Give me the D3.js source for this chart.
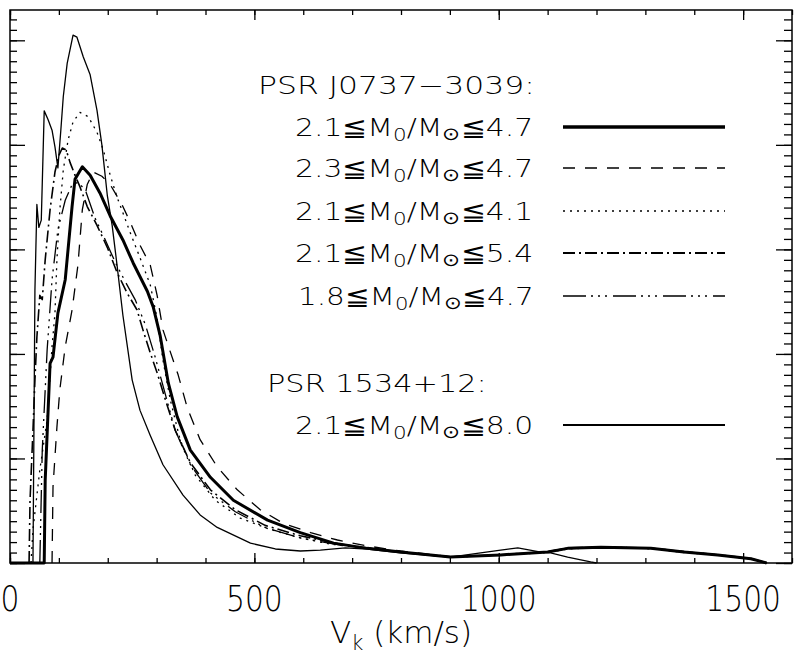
<!DOCTYPE html>
<html><head><meta charset="utf-8">
<script src="https://cdn.jsdelivr.net/npm/d3@7"></script>
<style>
body{margin:0;background:#fff}
svg{display:block}
text{font-family:"DejaVu Sans",sans-serif;fill:#000;font-weight:200}
</style>
</head><body>
<svg id="chart" width="800" height="658"></svg>
<script>
// ---------- data (Vk in km/s, relative probability density) ----------
const xTickLabels = [0, 500, 1000, 1500];

// PSR J0737-3039, 2.1<=M0/Msun<=4.7 (thick solid)
const j0737_21_47 = [[0,0],[70,0],[72,0.79],[82,1.91],[88,1.97],[98,2.39],[113,2.71],[127,3.41],[133,3.67],[148,3.79],[164,3.71],[184,3.54],[205,3.32],[231,3.09],[252,2.87],[281,2.60],[293,2.45],[307,2.18],[324,1.72],[342,1.40],[369,1.08],[410,0.82],[457,0.60],[527,0.41],[594,0.29],[662,0.19],[731,0.14],[799,0.105],[901,0.057],[1004,0.077],[1100,0.105],[1141,0.14],[1209,0.15],[1311,0.14],[1379,0.105],[1448,0.077],[1516,0.04],[1548,0]];
// PSR J0737-3039, 2.3<=M0/Msun<=4.7 (dashed)
const j0737_23_47 = [[86,0],[88,0.73],[96,1.30],[102,1.66],[113,2.07],[127,2.42],[139,2.85],[148,3.38],[158,3.62],[170,3.74],[188,3.70],[205,3.62],[229,3.43],[246,3.26],[266,3.04],[287,2.85],[301,2.56],[313,2.23],[328,2.02],[344,1.80],[363,1.48],[389,1.18],[424,0.92],[465,0.70],[512,0.51],[559,0.38],[615,0.29],[670,0.22],[731,0.163],[799,0.115],[901,0.06],[1004,0.08],[1100,0.11],[1141,0.145],[1209,0.155],[1311,0.145],[1379,0.11],[1448,0.08],[1516,0.045],[1550,0]];
// PSR J0737-3039, 2.1<=M0/Msun<=4.1 (dotted)
const j0737_21_41 = [[43,0],[47,0.32],[61,0.89],[76,1.37],[86,2.07],[92,2.39],[96,2.90],[102,3.38],[109,3.76],[119,4.05],[129,4.22],[143,4.31],[160,4.27],[178,4.12],[191,3.95],[205,3.71],[219,3.50],[231,3.35],[246,3.16],[266,2.92],[287,2.66],[301,2.34],[313,1.94],[328,1.56],[348,1.18],[379,0.84],[420,0.60],[471,0.43],[533,0.32],[594,0.24],[656,0.18],[731,0.144],[799,0.105],[901,0.055],[1004,0.075],[1100,0.10],[1141,0.135],[1209,0.148],[1311,0.138],[1379,0.10],[1448,0.075],[1516,0.04],[1546,0]];
// PSR J0737-3039, 2.1<=M0/Msun<=5.4 (dash-dot)
const j0737_21_54 = [[39,0],[41,0.60],[47,1.27],[51,1.75],[55,2.16],[61,2.56],[66,2.52],[72,2.90],[82,3.38],[92,3.74],[100,3.90],[107,3.97],[115,3.95],[123,3.83],[133,3.71],[143,3.60],[158,3.41],[178,3.23],[199,3.02],[219,2.78],[240,2.58],[260,2.42],[272,2.23],[287,2.01],[301,1.82],[318,1.56],[338,1.27],[369,0.96],[410,0.70],[461,0.51],[522,0.36],[594,0.26],[676,0.18],[731,0.144],[799,0.105],[901,0.058],[1004,0.078],[1100,0.107],[1141,0.142],[1209,0.152],[1311,0.142],[1379,0.107],[1448,0.078],[1516,0.042],[1549,0]];
// PSR J0737-3039, 1.8<=M0/Msun<=4.7 (dash-dot-dot)
const j0737_18_47 = [[61,0],[66,1.08],[76,2.04],[86,2.71],[98,3.19],[113,3.47],[127,3.62],[139,3.64],[154,3.57],[174,3.30],[195,3.09],[215,2.88],[236,2.69],[256,2.52],[277,2.28],[297,1.97],[318,1.61],[338,1.27],[369,0.94],[410,0.67],[461,0.49],[522,0.34],[594,0.24],[676,0.17],[731,0.144],[799,0.105],[901,0.056],[1004,0.076],[1100,0.104],[1141,0.138],[1209,0.148],[1311,0.138],[1379,0.104],[1448,0.076],[1516,0.04],[1547,0]];
// PSR 1534+12, 2.1<=M0/Msun<=8.0 (thin solid)
const b1534_21_80 = [[0,0],[47,0],[51,2.61],[55,3.43],[59,3.21],[64,3.28],[70,4.325],[78,4.24],[86,4.14],[92,3.98],[98,3.78],[104,4.14],[109,4.46],[117,4.78],[129,5.05],[137,5.03],[150,4.84],[164,4.67],[178,4.33],[188,4.00],[199,3.52],[209,3.23],[219,2.85],[231,2.37],[250,1.75],[266,1.46],[287,1.22],[313,0.94],[354,0.65],[389,0.46],[424,0.34],[492,0.19],[543,0.134],[594,0.115],[635,0.124],[686,0.144],[731,0.134],[799,0.096],[901,0.057],[963,0.096],[1004,0.124],[1039,0.144],[1086,0.105],[1106,0.096],[1141,0.057],[1168,0.03],[1188,0.01],[1200,0]];

const seriesList = [
  {data: j0737_21_47, width: 3,   dash: null,                 lo: "2.1", hi: "4.7", legendWidth: 3.5},
  {data: j0737_23_47, width: 1.3, dash: "12,10",              lo: "2.3", hi: "4.7"},
  {data: j0737_21_41, width: 1.3, dash: "2,5",                lo: "2.1", hi: "4.1"},
  {data: j0737_21_54, width: 1.6, dash: "12,4,2,4",           lo: "2.1", hi: "5.4", legendWidth: 2},
  {data: j0737_18_47, width: 1.3, dash: "23,5,2,5,2,5,2,6",   lo: "1.8", hi: "4.7"},
  {data: b1534_21_80, width: 1.3, dash: null,                 lo: "2.1", hi: "8.0", legendWidth: 2}
];

// ---------- layout ----------
const svg = d3.select("#chart");
const W = 800, H = 658;
const m = {left: 10, top: 10, right: 8, bottom: 95};
const x = d3.scaleLinear().domain([0, 1600]).range([m.left, W - m.right]);
const y = d3.scaleLinear().domain([0, 5.29]).range([H - m.bottom, m.top]);

svg.append("rect").attr("width", W).attr("height", H).attr("fill", "#fff");

// curves
const line = d3.line().x(d => x(d[0])).y(d => y(d[1]));
const plot = svg.append("g");
seriesList.forEach(s => {
  plot.append("path").datum(s.data).attr("d", line)
    .attr("fill", "none").attr("stroke", "#000")
    .attr("stroke-width", s.width)
    .attr("stroke-dasharray", s.dash)
    .attr("stroke-linejoin", "round");
});

// axes (ticks inward, no y labels)
function styleAxis(g){ g.select(".domain").remove(); g.selectAll("line").attr("stroke","#000").attr("stroke-width",1.3); g.selectAll("text").remove(); }
const xMinor = d3.range(0, 1601, 100);
const xMajor = d3.range(0, 1601, 500);
const yMinor = d3.range(0, 53).map(i => i / 10);
const yMajor = d3.range(0, 6);
const yb = H - m.bottom, yt = m.top, xl = m.left, xr = W - m.right;
svg.append("g").attr("transform", `translate(0,${yb})`).call(d3.axisBottom(x).tickValues(xMinor).tickSize(-5)).call(styleAxis);
svg.append("g").attr("transform", `translate(0,${yb})`).call(d3.axisBottom(x).tickValues(xMajor).tickSize(-10)).call(styleAxis);
svg.append("g").attr("transform", `translate(0,${yt})`).call(d3.axisTop(x).tickValues(xMinor).tickSize(-5)).call(styleAxis);
svg.append("g").attr("transform", `translate(0,${yt})`).call(d3.axisTop(x).tickValues(xMajor).tickSize(-10)).call(styleAxis);
svg.append("g").attr("transform", `translate(${xl},0)`).call(d3.axisLeft(y).tickValues(yMinor).tickSize(-7)).call(styleAxis);
svg.append("g").attr("transform", `translate(${xl},0)`).call(d3.axisLeft(y).tickValues(yMajor).tickSize(-15)).call(styleAxis);
svg.append("g").attr("transform", `translate(${xr},0)`).call(d3.axisRight(y).tickValues(yMinor).tickSize(-8)).call(styleAxis);
svg.append("g").attr("transform", `translate(${xr},0)`).call(d3.axisRight(y).tickValues(yMajor).tickSize(-16)).call(styleAxis);
svg.append("rect").attr("x", xl).attr("y", yt).attr("width", xr - xl).attr("height", yb - yt)
  .attr("fill", "none").attr("stroke", "#000").attr("stroke-width", 1.5);

// x tick labels
svg.append("g").selectAll("text").data(xTickLabels).join("text")
  .attr("transform", d => `translate(${x(d)},611) scale(0.85,1)`)
  .attr("text-anchor", "middle").attr("font-size", 35).text(d => d);

// x axis title
const xt = svg.append("text").attr("x", (xl + xr) / 2).attr("y", 643)
  .attr("text-anchor", "middle").attr("font-size", 31);
xt.append("tspan").text("V");
xt.append("tspan").attr("font-size", 21).attr("dy", 7).text("k");
xt.append("tspan").attr("dy", -7).text(" (km/s)");

// legend (text stretched horizontally to the wide stroke-font look)
function stretch(t, x0, targetW){
  const w = t.node().getBBox().width;
  t.attr("transform", `translate(${x0},0) scale(${targetW / w},1) translate(${-x0},0)`);
}
const lg = svg.append("g").attr("font-size", 25);
const h1 = lg.append("text").attr("x", 258).attr("y", 94).text("PSR J0737\u22123039:");
stretch(h1, 258, 277);
const h2 = lg.append("text").attr("x", 267).attr("y", 392).text("PSR 1534+12:");
stretch(h2, 267, 220);
const rowY = [127, 168, 211, 253, 296, 425];
seriesList.forEach((s, i) => {
  const x0 = s.lo === "1.8" ? 298 : 295;
  const t = lg.append("text").attr("x", x0).attr("y", rowY[i] + 9);
  t.append("tspan").text(s.lo + "\u2266M");
  t.append("tspan").attr("font-size", 18).attr("dy", 5).text("0");
  t.append("tspan").attr("dy", -5).text("/M");
  t.append("tspan").attr("font-size", 18).attr("dy", 4).text("\u2299");
  t.append("tspan").attr("dy", -4).text("\u2266" + s.hi);
  stretch(t, x0, 533 - x0);
  lg.append("line").attr("x1", 563).attr("x2", 725).attr("y1", rowY[i]).attr("y2", rowY[i])
    .attr("stroke", "#000").attr("stroke-width", s.legendWidth || s.width)
    .attr("stroke-dasharray", s.dash);
});
</script>
</body></html>
